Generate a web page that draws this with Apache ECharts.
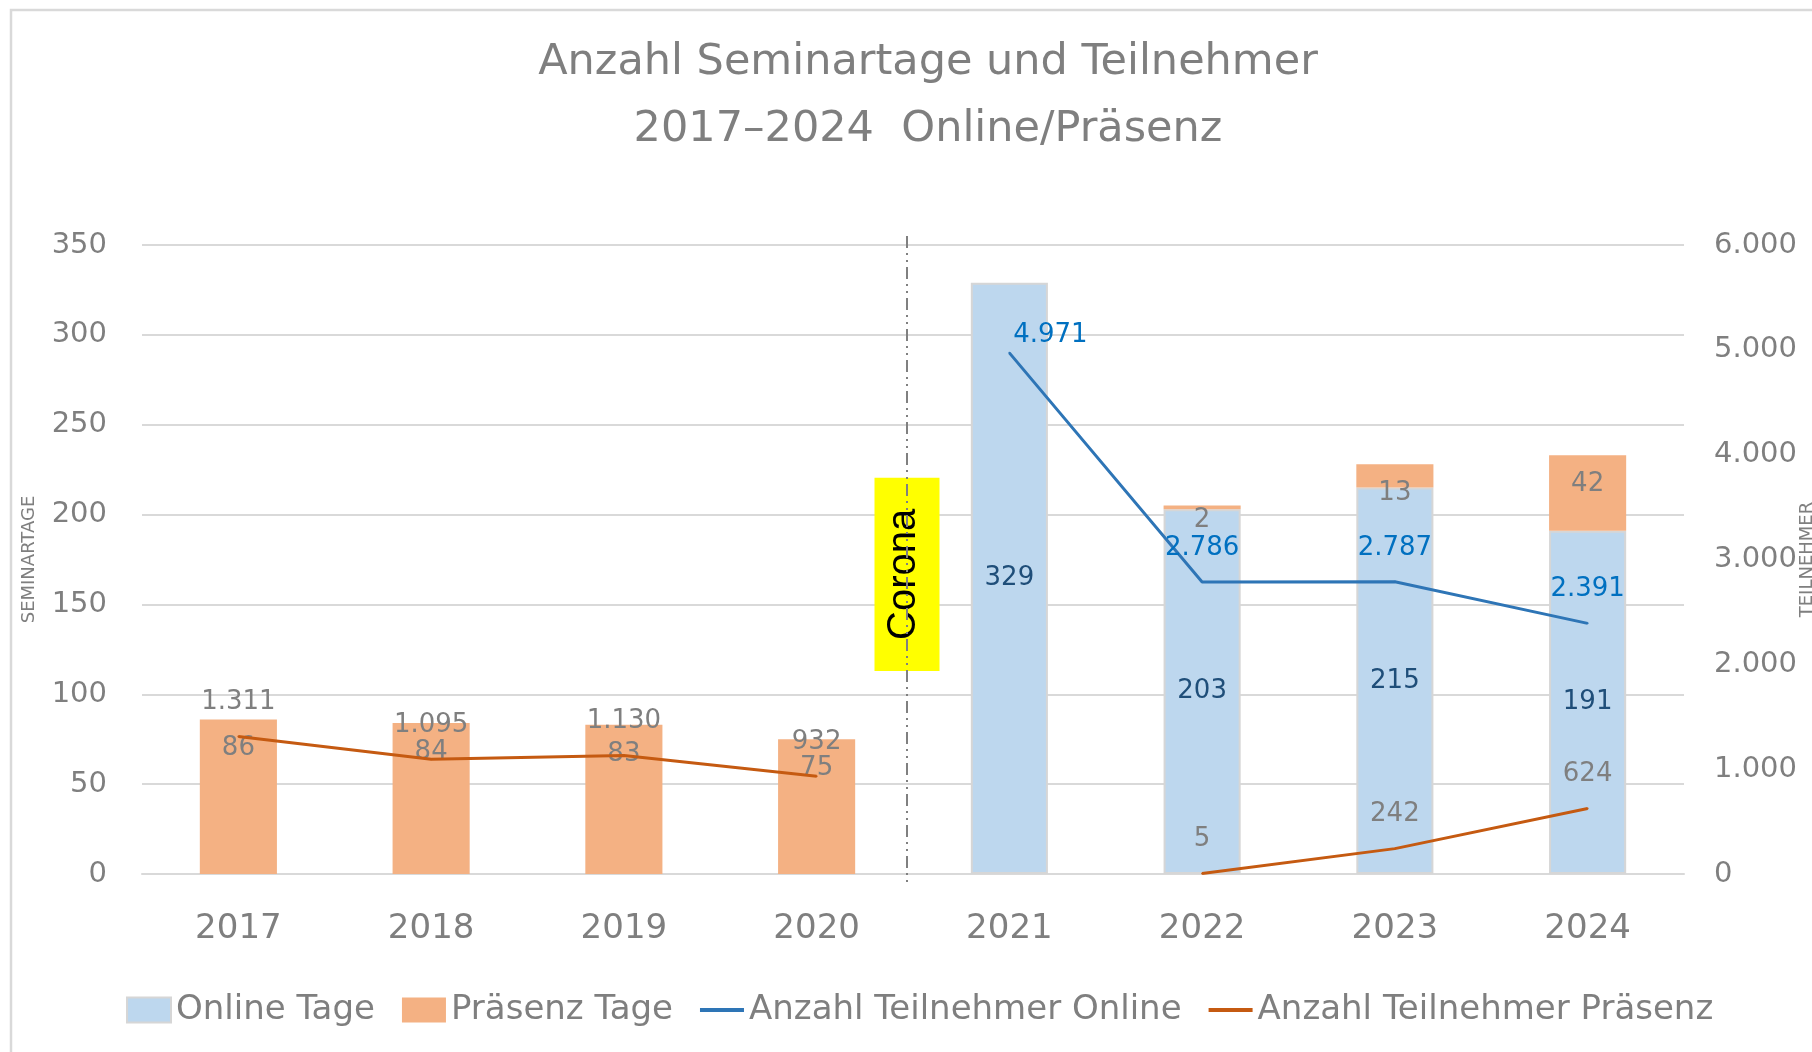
<!DOCTYPE html>
<html>
<head>
<meta charset="utf-8">
<script src="https://cdn.jsdelivr.net/npm/echarts@6/dist/echarts.min.js"></script>
<style>
  html, body { margin: 0; padding: 0; background: #fff; }
  #chart { width: 1812px; height: 1052px; }
</style>
</head>
<body>
<div id="chart"></div>
<script>
// Daten
const years = ['2017', '2018', '2019', '2020', '2021', '2022', '2023', '2024']
const onlineTage = [null, null, null, null, 329, 203, 215, 191]
const praesenzTage = [86, 84, 83, 75, null, 2, 13, 42]
const teilnehmerOnline = [null, null, null, null, 4971, 2786, 2787, 2391]
const teilnehmerPraesenz = [1311, 1095, 1130, 932, null, 5, 242, 624]
const tageAxis = [0, 350, 50]          // min, max, interval
const teilnehmerAxis = [0, 6000, 1000]

const grey = '#7f7f7f'
const font = 'DejaVu Sans'
const lineIcon = 'path://M0,0H44V4H0Z'

// 1.311 statt 1311
function fmt(v) {
  return String(v).replace(/\B(?=(\d{3})+(?!\d))/g, '.')
}

const chart = echarts.init(document.getElementById('chart'))

chart.setOption({
  backgroundColor: '#fff',
  animation: false,
  textStyle: { fontFamily: font },
  title: {
    text: 'Anzahl Seminartage und Teilnehmer\n2017–2024  Online/Präsenz',
    left: 923,
    top: 24,
    textAlign: 'center',
    textStyle: {
      color: grey,
      fontSize: 43,
      fontWeight: 'normal',
      lineHeight: 67,
      fontFamily: font
    }
  },
  legend: {
    left: 126,
    top: 993,
    padding: 0,
    itemGap: 27,
    itemWidth: 44,
    itemHeight: 25,
    symbolKeepAspect: true,
    textStyle: { color: grey, fontSize: 34, fontFamily: font },
    data: [
      { name: 'Online Tage', icon: 'rect' },
      { name: 'Präsenz Tage', icon: 'rect' },
      { name: 'Anzahl Teilnehmer Online', icon: lineIcon },
      { name: 'Anzahl Teilnehmer Präsenz', icon: lineIcon }
    ]
  },
  grid: { left: 142, right: 128, top: 245, bottom: 178, outerBoundsMode: 'none' },
  xAxis: {
    type: 'category',
    data: years,
    axisLine: { lineStyle: { color: '#d9d9d9', width: 2 } },
    axisTick: { length: 12, lineStyle: { color: '#d9d9d9', width: 2 } },
    axisLabel: { color: grey, fontSize: 34, margin: 38 }
  },
  yAxis: [
    {
      type: 'value',
      min: tageAxis[0],
      max: tageAxis[1],
      interval: tageAxis[2],
      name: 'SEMINARTAGE',
      nameLocation: 'middle',
      nameRotate: 90,
      nameGap: 104,
      nameTextStyle: { color: grey, fontSize: 18 },
      axisLabel: { color: grey, fontSize: 29, margin: 35 },
      splitLine: { lineStyle: { color: '#d9d9d9', width: 2 } }
    },
    {
      type: 'value',
      position: 'right',
      min: teilnehmerAxis[0],
      max: teilnehmerAxis[1],
      interval: teilnehmerAxis[2],
      name: 'TEILNEHMER',
      nameLocation: 'middle',
      nameRotate: 90,
      nameGap: 114,
      nameMoveOverlap: false,
      nameTextStyle: { color: grey, fontSize: 18 },
      axisLabel: { color: grey, fontSize: 29, margin: 30, formatter: fmt },
      splitLine: { show: false }
    }
  ],
  series: [
    {
      name: 'Online Tage',
      type: 'bar',
      stack: 'tage',
      barWidth: '40%',
      data: onlineTage,
      itemStyle: { color: '#bdd7ee', borderColor: '#d6d6d6', borderWidth: 2 },
      label: { show: true, position: 'inside', color: '#1f4e79', fontSize: 26 }
    },
    {
      name: 'Präsenz Tage',
      type: 'bar',
      stack: 'tage',
      barWidth: '40%',
      data: praesenzTage.map(v => v === 2
        ? { value: v, label: { distance: 2 } }
        : v),
      itemStyle: { color: '#f4b183' },
      label: { show: true, position: 'insideTop', distance: 16, color: grey, fontSize: 26 }
    },
    {
      name: 'Anzahl Teilnehmer Online',
      type: 'line',
      yAxisIndex: 1,
      symbol: 'circle',
      symbolSize: 2,
      data: teilnehmerOnline.map((v, i) => i === 4
        ? { value: v, label: { offset: [41, 16] } }
        : v),
      lineStyle: { color: '#2e75b6', width: 3 },
      itemStyle: { color: '#2e75b6' },
      label: {
        show: true, position: 'top', distance: 20, color: '#0070c0', fontSize: 26,
        formatter: p => fmt(p.value)
      }
    },
    {
      name: 'Anzahl Teilnehmer Präsenz',
      type: 'line',
      yAxisIndex: 1,
      symbol: 'circle',
      symbolSize: 2,
      data: teilnehmerPraesenz,
      lineStyle: { color: '#c55a11', width: 3 },
      itemStyle: { color: '#c55a11' },
      label: {
        show: true, position: 'top', distance: 20, color: grey, fontSize: 26,
        formatter: p => fmt(p.value)
      }
    }
  ]
})

// Corona-Markierung zwischen 2020 und 2021
const x2020 = chart.convertToPixel({ xAxisIndex: 0 }, '2020')
const x2021 = chart.convertToPixel({ xAxisIndex: 0 }, '2021')
const lineX = (x2020 + x2021) / 2 - 6
const yTop = chart.convertToPixel({ yAxisIndex: 0 }, 355)
const yBottom = chart.convertToPixel({ yAxisIndex: 0 }, 0) + 10
const boxTop = chart.convertToPixel({ yAxisIndex: 0 }, 220.5)
const boxBottom = chart.convertToPixel({ yAxisIndex: 0 }, 113)

chart.setOption({
  graphic: [
    {
      type: 'rect',
      shape: { x: 11, y: 10, width: 2000, height: 2000 },
      style: { fill: 'none', stroke: '#d9d9d9', lineWidth: 2.5 },
      z: 0,
      silent: true
    },
    {
      type: 'rect',
      shape: { x: lineX - 32.5, y: boxTop, width: 65, height: boxBottom - boxTop },
      style: { fill: '#ffff00' },
      z: 10
    },
    {
      type: 'text',
      x: lineX - 3,
      y: (boxTop + boxBottom) / 2,
      rotation: Math.PI / 2,
      style: {
        text: 'Corona',
        font: '40px "Liberation Sans", Arial, sans-serif',
        fill: '#000',
        align: 'center',
        verticalAlign: 'middle'
      },
      z: 11
    },
    {
      type: 'line',
      shape: { x1: lineX, y1: yTop, x2: lineX, y2: yBottom },
      style: { stroke: '#808080', lineWidth: 2, lineDash: [12, 5, 2, 5, 2, 5] },
      z: 12
    }
  ]
})
</script>
</body>
</html>
